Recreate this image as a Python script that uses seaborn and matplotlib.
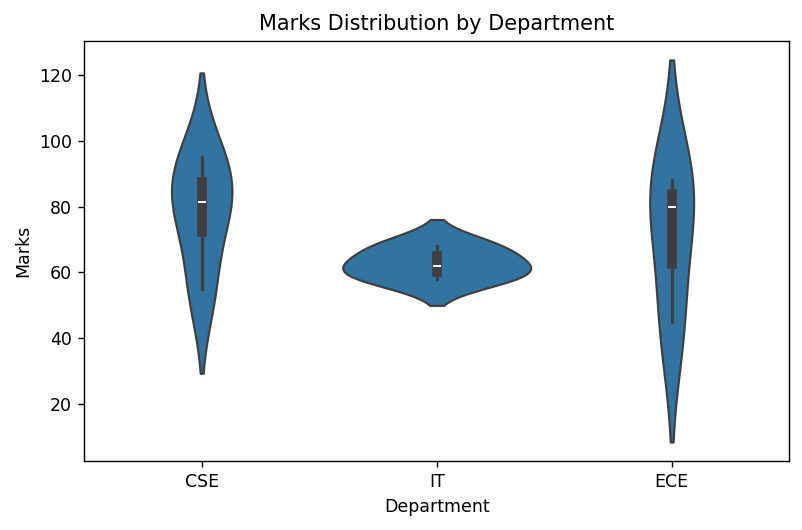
import pandas as pd
import seaborn as sns
import matplotlib.pyplot as plt

# Marks per student, grouped by department
departments = ['CSE', 'CSE', 'CSE', 'CSE', 'IT', 'IT', 'IT', 'ECE', 'ECE', 'ECE']
marks = [55, 78, 85, 95, 58, 62, 68, 45, 80, 88]

df = pd.DataFrame({'Department': departments, 'Marks': marks})

plt.figure(figsize=(6.416, 4.24), dpi=125)
sns.violinplot(x='Department', y='Marks', data=df)
plt.title('Marks Distribution by Department')
# match the tight margins of the reference
plt.subplots_adjust(left=0.105, right=0.984, top=0.923, bottom=0.130)
plt.savefig('out.png', dpi=125)
